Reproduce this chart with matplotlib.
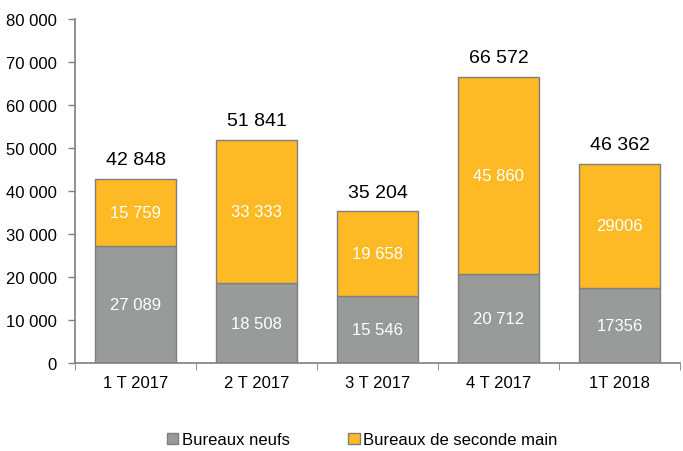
import matplotlib.pyplot as plt
import numpy as np
from matplotlib.patches import Patch

categories = ['1 T 2017', '2 T 2017', '3 T 2017', '4 T 2017', '1T 2018']
neufs = [27089, 18508, 15546, 20712, 17356]
seconde_main = [15759, 33333, 19658, 45860, 29006]
neufs_labels = ['27 089', '18 508', '15 546', '20 712', '17356']
seconde_labels = ['15 759', '33 333', '19 658', '45 860', '29006']
totals = [42848, 51841, 35204, 66572, 46362]
total_labels = ['42 848', '51 841', '35 204', '66 572', '46 362']

GREY = '#999B9B'
ORANGE = '#FDBA24'
EDGE = '#7f7f7f'

plt.rcParams['font.family'] = ['Liberation Sans', 'DejaVu Sans']

fig = plt.figure(figsize=(6.83, 4.52), dpi=100)
ax = fig.add_axes([0.110, 0.195, 0.886, 0.761])

x = np.arange(len(categories))
ax.bar(x, neufs, width=0.67, color=GREY, edgecolor=EDGE, linewidth=1)
ax.bar(x, seconde_main, width=0.67, bottom=neufs, color=ORANGE, edgecolor=EDGE, linewidth=1)

for i in range(len(categories)):
    ax.text(x[i], neufs[i] / 2, neufs_labels[i], ha='center', va='center', color='white', fontsize=12)
    ax.text(x[i], neufs[i] + seconde_main[i] / 2, seconde_labels[i], ha='center', va='center',
            color='white', fontsize=12)
    ax.text(x[i], totals[i] + 2500, total_labels[i], ha='center', va='bottom', color='black', fontsize=14)

ax.set_xlim(-0.5, len(categories) - 0.5)
ax.set_ylim(0, 80000)
ax.set_yticks(np.arange(0, 80001, 10000))
ax.set_yticklabels(['0' if v == 0 else f'{v // 1000} 000' for v in range(0, 80001, 10000)], fontsize=12)

ax.set_xticks(x)
ax.set_xticklabels(categories, fontsize=12)
ax.tick_params(axis='x', length=0, pad=9)
ax.set_xticks(np.arange(-0.5, len(categories)), minor=True)
ax.tick_params(axis='x', which='minor', length=5, color=EDGE, direction='out')
ax.tick_params(axis='y', length=5, color=EDGE, direction='out', width=1, pad=8)

for s in ['top', 'right']:
    ax.spines[s].set_visible(False)
for s in ['left', 'bottom']:
    ax.spines[s].set_color(EDGE)
    ax.spines[s].set_linewidth(1.2)

handles = [Patch(facecolor=GREY, edgecolor=EDGE, label='Bureaux neufs'),
           Patch(facecolor=ORANGE, edgecolor=EDGE, label='Bureaux de seconde main')]
fig.legend(handles=handles, loc='lower center', bbox_to_anchor=(0.53, -0.025), ncol=2, frameon=False,
           fontsize=12, handlelength=0.7, handleheight=0.7, handletextpad=0.2, columnspacing=3.5)

fig.savefig('out.png', dpi=100)
